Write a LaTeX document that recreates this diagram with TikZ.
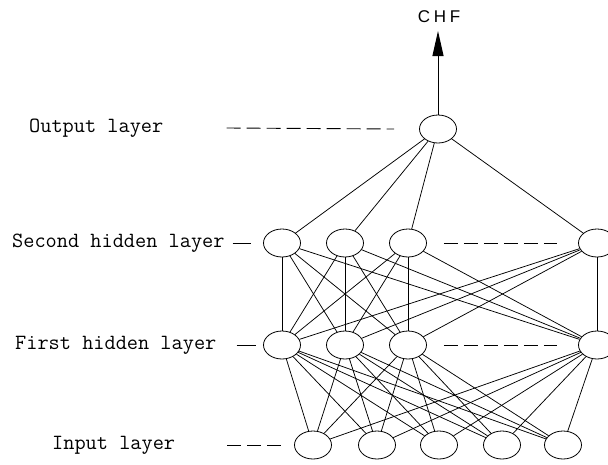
\documentclass[tikz,border=0pt]{standalone}
\usepackage{fontspec}
\newfontfamily\chffont[LetterSpace=22]{Liberation Sans}
\usepackage{tikz}
\usetikzlibrary{shapes, arrows.meta, positioning}

\tikzset{
  neuron/.style={draw, ellipse, line width=0.8pt, minimum width=37pt, minimum height=28pt, inner sep=0pt},
  layerlabel/.style={anchor=west, inner sep=0pt, font=\ttfamily\fontsize{21.7}{24}\selectfont},
  link/.style={line width=0.75pt},
  dots/.style={line width=0.9pt, dash pattern=on 14pt off 6pt}
}

\begin{document}
\begin{tikzpicture}[x=1pt, y=-1pt]
\clip (0,0) rectangle (608,464);
% Output block
\node[neuron] (out) at (438,129) {};
\node[font=\chffont\fontsize{17}{20}\selectfont] (chf) at (439,17) {CHF};
\coordinate (tip) at (438,31);
% Second hidden layer
\node[neuron] (h21) at (282,243) {};
\node[neuron] (h22) at (345,243) {};
\node[neuron] (h23) at (408,243) {};
\node[neuron] (h24) at (597,243) {};
% First hidden layer
\node[neuron] (h11) at (282,345) {};
\node[neuron] (h12) at (345,345) {};
\node[neuron] (h13) at (408,345) {};
\node[neuron] (h14) at (597,345) {};
% Input layer
\node[neuron] (in1) at (313,445) {};
\node[neuron] (in2) at (377,445) {};
\node[neuron] (in3) at (439,445) {};
\node[neuron] (in4) at (502,445) {};
\node[neuron] (in5) at (563,445) {};
% Labels
\node[layerlabel] (lout) at (29,128) {Output layer};
\node[layerlabel] (lh2) at (12,243) {Second hidden layer};
\node[layerlabel] (lh1) at (15,345) {First hidden layer};
\node[layerlabel] (lin) at (52,445) {Input layer};
% Dashes
\draw[dots] ([xshift=63pt]lout.east) -- ([xshift=-25pt]out.west);
\draw[line width=0.9pt] ([xshift=8pt]lh2.east) -- ([xshift=-12pt]h21.west);
\draw[line width=0.9pt] ([xshift=20pt]lh1.east) -- ([xshift=-7pt]h11.west);
\draw[dots] ([xshift=52pt]lin.east) -- ([xshift=-9pt]in1.west);
\draw[dots] ([xshift=17pt]h23.east) -- ([xshift=-21pt]h24.west);
\draw[dots] ([xshift=17pt]h13.east) -- ([xshift=-21pt]h14.west);
% Arrows
\draw[line width=1pt, -{Triangle[length=25pt, width=11pt]}] (out) -- (tip);
\foreach \j in {1,...,4} {
  \draw[link] (out) -- (h2\j);
  \foreach \k in {1,...,4}
    \draw[link] (h2\j) -- (h1\k);
  \foreach \k in {1,...,5}
    \draw[link] (h1\j) -- (in\k);
}
\end{tikzpicture}
\end{document}
